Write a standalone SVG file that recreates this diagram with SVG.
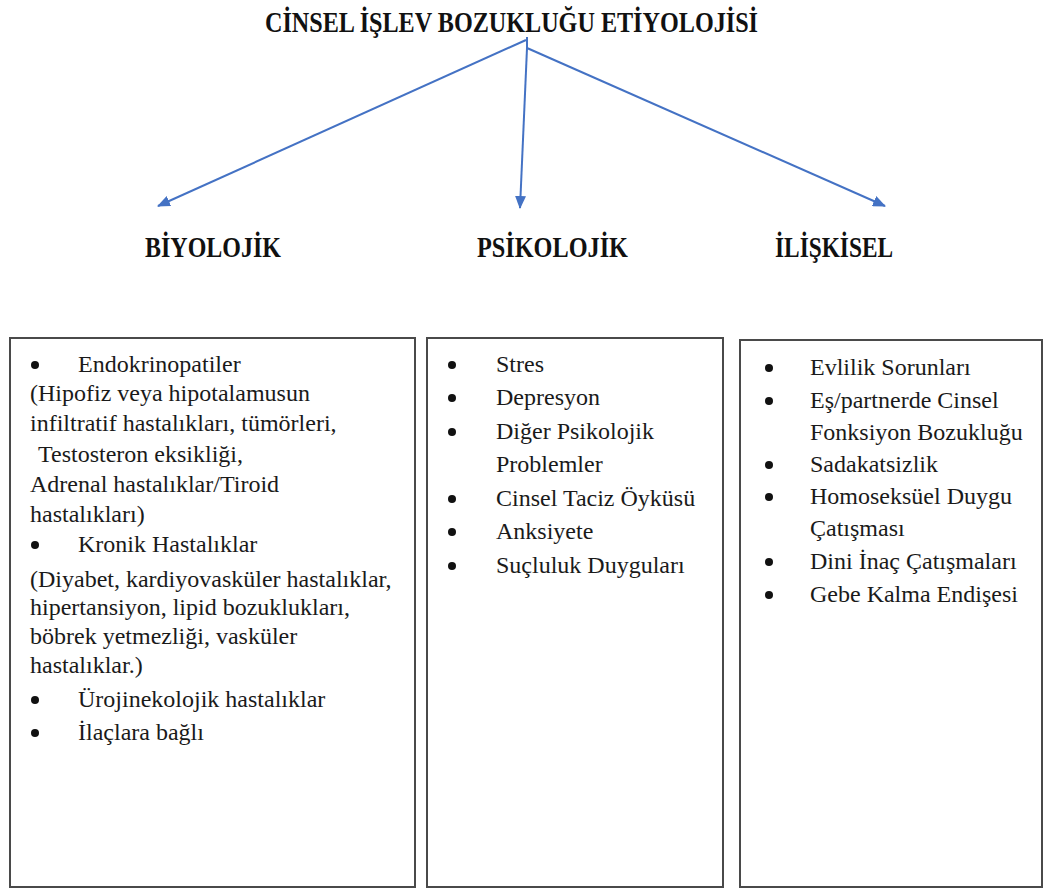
<svg xmlns="http://www.w3.org/2000/svg" width="1045" height="890" viewBox="0 0 1045 890">
  <style>
    .title { font-family: "Liberation Serif", "Times New Roman", serif; font-weight: bold; fill: #111; }
    .body { font-family: "Liberation Serif", "Times New Roman", serif; font-size: 24px; fill: #1a1a1a; }
    .bul { fill: #111; }
    .box { fill: #ffffff; stroke: #4a4a4a; stroke-width: 2; }
    .conn { stroke: #4472C4; stroke-width: 2; fill: none; }
  </style>
  <defs>
    <marker id="arrow" markerUnits="userSpaceOnUse" markerWidth="13" markerHeight="11" refX="12" refY="5.5" orient="auto">
      <path d="M0,0 L13,5.5 L0,11 z" fill="#4472C4"/>
    </marker>
  </defs>
  <rect width="1045" height="890" fill="#ffffff"/>

  <g id="title">
    <text class="title" x="265" y="32" font-size="29" textLength="493" lengthAdjust="spacingAndGlyphs">CİNSEL İŞLEV BOZUKLUĞU ETİYOLOJİSİ</text>
  </g>

  <g id="connectors">
    <line class="conn" x1="527" y1="37" x2="527" y2="48"/>
    <line class="conn" x1="526" y1="40" x2="158" y2="206" marker-end="url(#arrow)"/>
    <line class="conn" x1="527" y1="48" x2="520" y2="208" marker-end="url(#arrow)"/>
    <line class="conn" x1="527" y1="48" x2="885" y2="206" marker-end="url(#arrow)"/>
  </g>

  <g id="label-biyolojik">
    <text class="title" x="145" y="257" font-size="29" textLength="136" lengthAdjust="spacingAndGlyphs">BİYOLOJİK</text>
  </g>
  <g id="label-psikolojik">
    <text class="title" x="477" y="257" font-size="29" textLength="151" lengthAdjust="spacingAndGlyphs">PSİKOLOJİK</text>
  </g>
  <g id="label-iliskisel">
    <text class="title" x="775" y="257" font-size="29" textLength="118" lengthAdjust="spacingAndGlyphs">İLİŞKİSEL</text>
  </g>

  <g id="box-biyolojik">
    <rect class="box" x="10" y="338" width="405" height="549"/>
    <circle class="bul" cx="35" cy="365" r="4"/>
    <text class="body" x="78" y="372">Endokrinopatiler</text>
    <text class="body" x="30" y="401">(Hipofiz veya hipotalamusun</text>
    <text class="body" x="30" y="431">infiltratif hastalıkları, tümörleri,</text>
    <text class="body" x="38" y="462">Testosteron eksikliği,</text>
    <text class="body" x="30" y="492">Adrenal hastalıklar/Tiroid</text>
    <text class="body" x="30" y="522">hastalıkları)</text>
    <circle class="bul" cx="35" cy="545" r="4"/>
    <text class="body" x="78" y="552">Kronik Hastalıklar</text>
    <text class="body" x="30" y="587">(Diyabet, kardiyovasküler hastalıklar,</text>
    <text class="body" x="30" y="615">hipertansiyon, lipid bozuklukları,</text>
    <text class="body" x="30" y="644">böbrek yetmezliği, vasküler</text>
    <text class="body" x="30" y="673">hastalıklar.)</text>
    <circle class="bul" cx="35" cy="700" r="4"/>
    <text class="body" x="78" y="707">Ürojinekolojik hastalıklar</text>
    <circle class="bul" cx="35" cy="733" r="4"/>
    <text class="body" x="78" y="740">İlaçlara bağlı</text>
  </g>

  <g id="box-psikolojik">
    <rect class="box" x="427" y="338" width="296" height="549"/>
    <circle class="bul" cx="452" cy="365" r="4"/>
    <text class="body" x="496" y="372">Stres</text>
    <circle class="bul" cx="452" cy="398" r="4"/>
    <text class="body" x="496" y="405">Depresyon</text>
    <circle class="bul" cx="452" cy="432" r="4"/>
    <text class="body" x="496" y="439">Diğer Psikolojik</text>
    <text class="body" x="496" y="472">Problemler</text>
    <circle class="bul" cx="452" cy="499" r="4"/>
    <text class="body" x="496" y="506">Cinsel Taciz Öyküsü</text>
    <circle class="bul" cx="452" cy="532" r="4"/>
    <text class="body" x="496" y="539">Anksiyete</text>
    <circle class="bul" cx="452" cy="566" r="4"/>
    <text class="body" x="496" y="573">Suçluluk Duyguları</text>
  </g>

  <g id="box-iliskisel">
    <rect class="box" x="740" y="340" width="302" height="547"/>
    <circle class="bul" cx="769" cy="368" r="4"/>
    <text class="body" x="810" y="375">Evlilik Sorunları</text>
    <circle class="bul" cx="769" cy="401" r="4"/>
    <text class="body" x="810" y="408">Eş/partnerde Cinsel</text>
    <text class="body" x="810" y="440">Fonksiyon Bozukluğu</text>
    <circle class="bul" cx="769" cy="465" r="4"/>
    <text class="body" x="810" y="472">Sadakatsizlik</text>
    <circle class="bul" cx="769" cy="497" r="4"/>
    <text class="body" x="810" y="504">Homoseksüel Duygu</text>
    <text class="body" x="810" y="536">Çatışması</text>
    <circle class="bul" cx="769" cy="562" r="4"/>
    <text class="body" x="810" y="569">Dini İnaç Çatışmaları</text>
    <circle class="bul" cx="769" cy="595" r="4"/>
    <text class="body" x="810" y="602">Gebe Kalma Endişesi</text>
  </g>
</svg>
